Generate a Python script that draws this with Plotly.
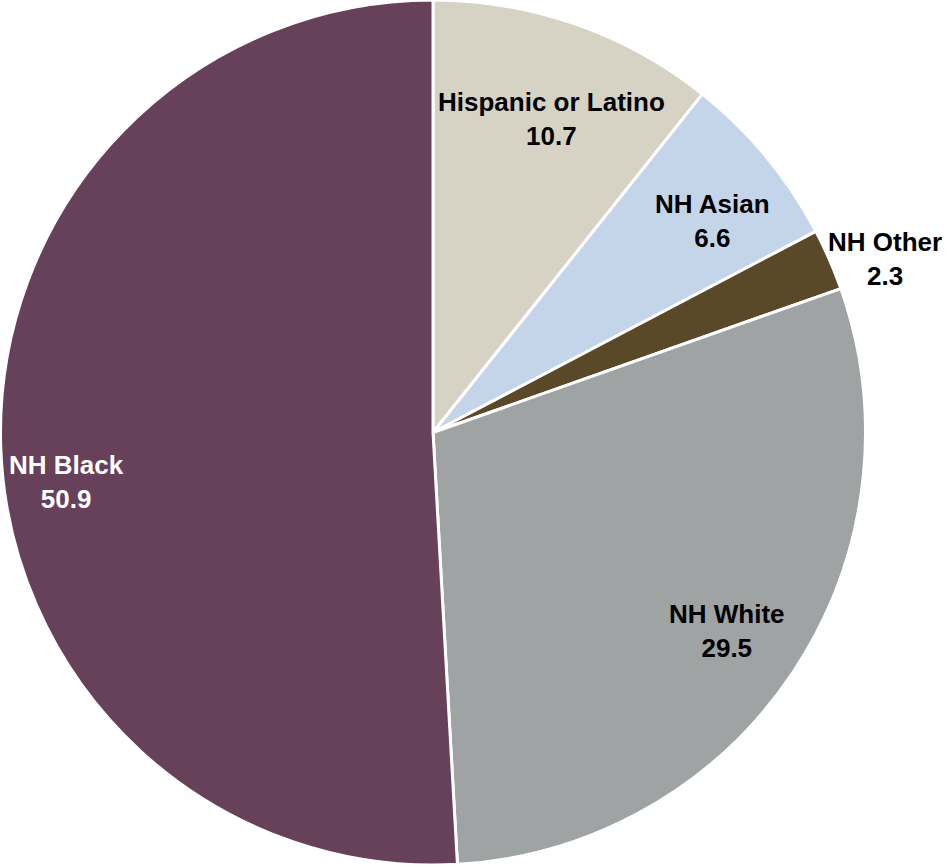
import math
import plotly.graph_objects as go

# Population share by race/ethnicity (%)
groups = ["Hispanic or Latino", "NH Asian", "NH Other", "NH White", "NH Black"]
shares = [10.7, 6.6, 2.3, 29.5, 50.9]
colors = ["#d6d3c4", "#c5d5e9", "#5a4928", "#9fa3a3", "#67405a"]
text_colors = ["#000000", "#000000", "#000000", "#000000", "#ffffff"]
# label placement: fraction of radius and angular nudge (degrees)
label_radius = [0.775, 0.81, 1.12, 0.82, 0.855]
label_nudge = [1.4, 2.4, 2.6, 0.3, -6.0]

W, H = 946, 865
cx, cy, R = 433.0, 432.5, 432.5

fig = go.Figure(
    go.Pie(
        labels=groups,
        values=shares,
        sort=False,
        direction="clockwise",
        rotation=0,
        marker=dict(colors=colors, line=dict(color="#ffffff", width=3)),
        textinfo="none",
        hoverinfo="label+value",
        showlegend=False,
        domain=dict(x=[0, 2 * cx / W], y=[0, 1]),
    )
)

total = sum(shares)
cum = 0.0
annotations = []
for name, val, tc, rf, nd in zip(groups, shares, text_colors, label_radius, label_nudge):
    mid = (cum + val / 2) / total * 360 + nd
    cum += val
    th = math.radians(mid)
    px = cx + rf * R * math.sin(th)
    py = cy + rf * R * math.cos(th)
    annotations.append(
        dict(
            x=px / W,
            y=py / H,
            xref="paper",
            yref="paper",
            text=f"{name}<br>{val}",
            showarrow=False,
            xanchor="center",
            yanchor="middle",
            align="center",
            font=dict(family="Liberation Sans Narrow, Liberation Sans, Arial, sans-serif",
                      size=26, color=tc, weight="bold"),
        )
    )

fig.update_layout(
    width=W,
    height=H,
    margin=dict(l=0, r=0, t=0, b=0),
    paper_bgcolor="#ffffff",
    plot_bgcolor="#ffffff",
    annotations=annotations,
)

fig.write_html("out.html")
